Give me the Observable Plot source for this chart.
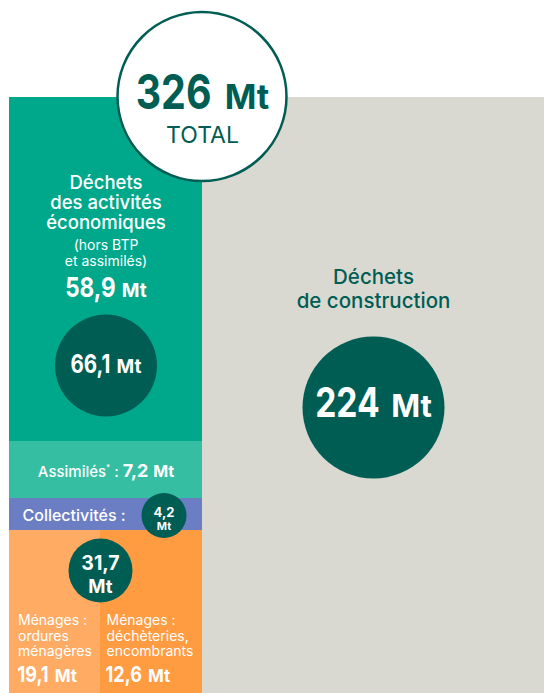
<!DOCTYPE html>
<html><head><meta charset="utf-8">
<script src="https://cdn.jsdelivr.net/npm/d3@7"></script>
<script src="https://cdn.jsdelivr.net/npm/@observablehq/plot@0.6"></script>
<style>
html,body{margin:0;padding:0;background:#fff;}
#chart svg{display:block;overflow:hidden;}
</style>
</head><body><div id="chart"></div>
<script>
// ---- data ----
const categories = ["Déchets des activités économiques", "Assimilés", "Collectivités", "Ménages : ordures ménagères", "Ménages : déchèteries, encombrants", "Déchets de construction"];
const values = [58.9, 7.2, 4.2, 19.1, 12.6, 224];
const colors = ["#00a88b", "#35bea2", "#6b7ec4", "#ffab63", "#ff9b41", "#d9d9d1"];
const unit = "Mt";
const titleTotal = "TOTAL";
const titleEco = "Déchets\ndes activités\néconomiques";
const noteEco = "(hors BTP\net assimilés)";
const titleAssim = "Assimilés";
const titleColl = "Collectivités :";
const titleOM = "Ménages :\nordures\nménagères";
const titleDech = "Ménages :\ndéchèteries,\nencombrants";
const titleConstr = "Déchets\nde construction";

// ---- derived ----
const [eco, assim, coll, om, dech, constr] = values;
const menages = om + dech;              // 31,7
const ecoAssim = eco + assim;           // 66,1
const leftTotal = eco + assim + coll + menages;
const total = leftTotal + constr;       // 326

const fr = d3.formatLocale({decimal: ",", thousands: "\u202f", grouping: [3], currency: ["", " €"]});
const fmt = v => Math.abs(v - Math.round(v)) < 1e-6 ? fr.format(".0f")(v) : fr.format(".1f")(v);

const DARK = "#005d54";
const TXT = "Inter, 'Noto Sans', sans-serif";
const W = 544, H = 693;
const CONDENSE = 0.82;

// stylised (non-proportional) treemap: piecewise value -> pixel mapping
const xDomain = [0, om, menages, menages * total / leftTotal];
const xRange = [9, 100, 202, 9 + (202 - 9) * total / leftTotal];
const yDomain = [0, eco, eco + assim, eco + assim + coll, leftTotal];
const yRange = [97, 441, 498, 530, 693];
const xs = d3.scaleLinear().domain(xDomain).range(xRange);
const ys = d3.scaleLinear().domain(yDomain).range(yRange);
const leftMid = xs.invert((xs(0) + xs(menages)) / 2);
const grayMid = xs.invert((xs(menages) + W) / 2);

const rects = [
  {c: 0, x1: 0, x2: menages, y1: 0, y2: eco},
  {c: 1, x1: 0, x2: menages, y1: eco, y2: eco + assim},
  {c: 2, x1: 0, x2: menages, y1: eco + assim, y2: eco + assim + coll},
  {c: 3, x1: 0, x2: om, y1: eco + assim + coll, y2: leftTotal},
  {c: 4, x1: om, x2: menages, y1: eco + assim + coll, y2: leftTotal},
  {c: 5, x1: menages, x2: xDomain[3], y1: 0, y2: leftTotal}
];

// value labels "number | Mt": number condensed, unit in its own size
const valueStyles = {mt34: {size: 34, gap: 4}, mt19: {size: 19, gap: 1}, mt18: {size: 19, gap: 1}, mt17: {size: 17, gap: 1.5}, mt31: {size: 31, gap: 3}};
const richStyles = {
  assim: [{}, {"font-size": 8, "baseline-shift": "7"}, {}, {"font-weight": 700, "font-size": 18}, {"font-weight": 700, "font-size": 16, dx: 1}]
};

const T = (data, o) => Plot.text(data, {lineAnchor: "bottom", fill: "white", fontFamily: TXT, fontWeight: 500, ...o});

const svg = Plot.plot({
  width: W, height: H, margin: 0,
  x: {type: "linear", transform: xs, domain: [0, W], range: [0, W], axis: null},
  y: {type: "linear", transform: ys, domain: [0, H], range: [0, H], axis: null},
  r: {type: "linear", domain: [coll, menages, ecoAssim, constr, total], range: [22.5, 32, 51, 71, 84.5]},
  marks: [
    Plot.rect(rects, {x1: "x1", x2: "x2", y1: "y1", y2: "y2", fill: d => colors[d.c]}),
    // bubbles
    Plot.dot([ecoAssim], {x: leftMid, y: eco, dy: -76, r: d => d, fill: DARK}),
    Plot.dot([constr], {x: grayMid, y: 0, dy: 310, r: d => d, fill: DARK}),
    Plot.dot([coll], {x: menages, dx: -38.5, y: eco + assim + coll / 2, dy: 1, r: d => d, fill: DARK}),
    Plot.dot([menages], {x: om, y: eco + assim + coll, dy: 40, r: d => d, fill: DARK}),
    Plot.dot([total], {x: menages, dx: -0.5, y: 0, dy: -1, r: d => d, fill: "white", stroke: DARK, strokeWidth: 2.5}),
    // total
    T([total], {x: menages, y: 0, dy: 11, text: d => `${fmt(d)}|${unit}`, fontWeight: 700, fontSize: 48, fill: DARK, ariaDescription: "mt34"}),
    T([titleTotal], {x: menages, y: 0, dy: 45, text: d => d, fontSize: 23, fontWeight: 400, fill: DARK}),
    // économiques
    T([titleEco], {x: leftMid, y: 0, dy: 131, text: d => d, fontSize: 18.5, lineHeight: 20 / 18.5}),
    T([noteEco], {x: leftMid, y: 0, dy: 168, text: d => d, fontSize: 14, fontWeight: 400, lineHeight: 15.5 / 14}),
    T([eco], {x: leftMid, y: 0, dy: 199, text: d => `${fmt(d)}|${unit}`, fontWeight: 700, fontSize: 27.5, ariaDescription: "mt19"}),
    T([ecoAssim], {x: leftMid, y: eco, dy: -69, text: d => `${fmt(d)}|${unit}`, fontWeight: 700, fontSize: 25, ariaDescription: "mt18"}),
    // assimilés
    T([assim], {x: leftMid, y: eco + assim / 2, dy: 6.5, text: d => `${titleAssim}|*| : |${fmt(d)}| ${unit}`, fontSize: 15, ariaDescription: "assim"}),
    // collectivités
    T([titleColl], {x: 0, dx: 13, y: eco + assim + coll / 2, dy: 6.5, text: d => d, textAnchor: "start", fontSize: 16}),
    T([coll], {x: menages, dx: -38.5, y: eco + assim + coll / 2, dy: 2, text: d => fmt(d), fontWeight: 700, fontSize: 13}),
    T([unit], {x: menages, dx: -38.5, y: eco + assim + coll / 2, dy: 15.5, text: d => d, fontWeight: 700, fontSize: 11}),
    // ménages
    T([menages], {x: om, y: eco + assim + coll, dy: 39.3, text: d => fmt(d), fontWeight: 700, fontSize: 19.5}),
    T([unit], {x: om, y: eco + assim + coll, dy: 62.7, text: d => d, fontWeight: 700, fontSize: 18.5}),
    T([titleOM], {x: 0, dx: 8.5, y: leftTotal, dy: -37.3, text: d => d, textAnchor: "start", fontSize: 14, fontWeight: 400, lineHeight: 15.7 / 14}),
    T([titleDech], {x: om, dx: 6, y: leftTotal, dy: -37.3, text: d => d, textAnchor: "start", fontSize: 14, fontWeight: 400, lineHeight: 15.7 / 14}),
    T([om], {x: 0, dx: 8, y: leftTotal, dy: -12, text: d => `${fmt(d)}|${unit}`, textAnchor: "start", fontWeight: 700, fontSize: 22, ariaDescription: "mt17"}),
    T([dech], {x: om, dx: 5, y: leftTotal, dy: -12, text: d => `${fmt(d)}|${unit}`, textAnchor: "start", fontWeight: 700, fontSize: 22, ariaDescription: "mt17"}),
    // construction
    T([titleConstr], {x: grayMid, y: 0, dy: 210.3, text: d => d, fontSize: 20.5, lineHeight: 24 / 20.5, fill: DARK}),
    T([constr], {x: grayMid, y: 0, dy: 319.7, text: d => `${fmt(d)}|${unit}`, fontWeight: 700, fontSize: 41, ariaDescription: "mt31"})
  ]
});

document.getElementById("chart").appendChild(svg);

// post-process labels
d3.select(svg).selectAll("g[aria-description]").each(function () {
  const key = this.getAttribute("aria-description");
  const g = this;
  const anchor = g.getAttribute("text-anchor") === "start" ? "start" : "middle";
  if (valueStyles[key]) {
    const vs = valueStyles[key];
    Array.from(g.querySelectorAll("text")).forEach(numEl => {
      const [numTxt, unitTxt] = numEl.textContent.split("|");
      const baseT = numEl.getAttribute("transform") || "";
      numEl.textContent = numTxt;
      const unitEl = numEl.cloneNode(false);
      unitEl.textContent = unitTxt;
      unitEl.setAttribute("font-size", vs.size);
      g.appendChild(unitEl);
      const wNum = numEl.getComputedTextLength() * CONDENSE;
      const wUnit = unitEl.getComputedTextLength();
      const gap = vs.size * 0.27 + vs.gap;
      const tot = wNum + gap + wUnit;
      const x0 = anchor === "middle" ? -tot / 2 : 0;
      numEl.setAttribute("text-anchor", "start");
      unitEl.setAttribute("text-anchor", "start");
      numEl.setAttribute("transform", `${baseT} translate(${x0},0) scale(${CONDENSE},1)`);
      unitEl.setAttribute("transform", `${baseT} translate(${x0 + wNum + gap},0)`);
    });
  } else if (richStyles[key]) {
    const st = richStyles[key];
    d3.select(g).selectAll("text").each(function () {
      const t = d3.select(this);
      const parts = this.textContent.split("|");
      t.text(null);
      parts.forEach((p, i) => {
        const ts = t.append("tspan").text(p);
        Object.entries(st[i] || {}).forEach(([k, v]) => ts.attr(k, v));
      });
    });
  }
});
</script>
</body></html>
